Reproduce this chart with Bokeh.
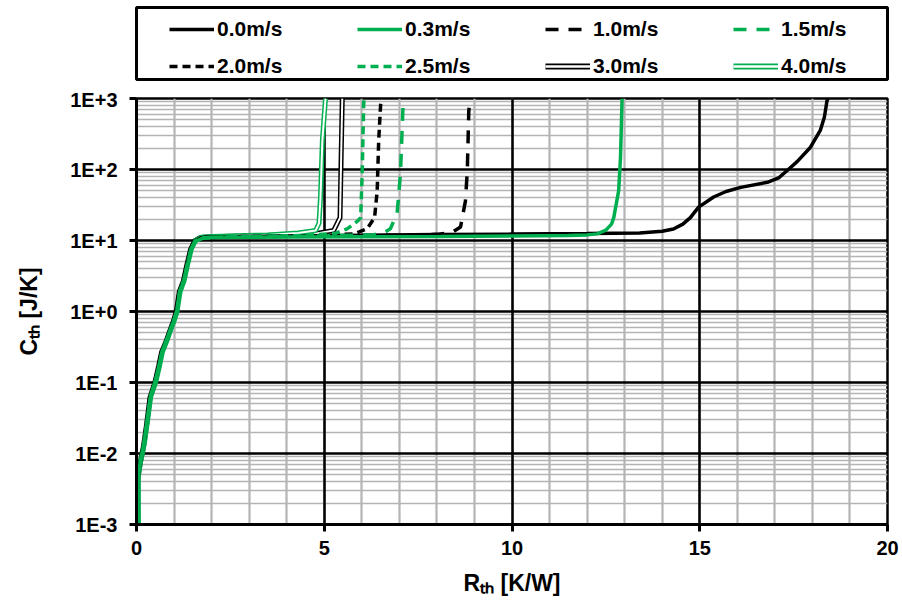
import math
from bokeh.plotting import figure
from bokeh.models import Range1d, FixedTicker, Legend, LegendItem, Grid
from bokeh.layouts import column
from bokeh.embed import file_html
from bokeh.resources import INLINE

# ---------------- data ----------------
labels = ["0.0m/s", "0.3m/s", "1.0m/s", "1.5m/s", "2.0m/s", "2.5m/s", "3.0m/s", "4.0m/s"]

r_00 = [0.03, 0.03, 0.06, 0.10, 0.14, 0.19, 0.27, 0.36, 0.49, 0.59, 0.67, 0.79, 0.89, 0.99, 1.06, 1.14,
        1.25, 1.34, 1.44, 1.55, 1.72, 2.0, 3.0, 4.0, 6.0, 8.0, 10.0, 12.0, 13.4, 14.0, 14.3, 14.55, 14.75,
        14.97, 15.37, 15.7, 16.09, 16.8, 17.1, 17.33, 17.6, 17.95, 18.21, 18.32, 18.39, 18.42]
c_00 = [0.001, 0.0042, 0.0055, 0.0075, 0.0095, 0.013, 0.026, 0.062, 0.10, 0.17, 0.27, 0.38, 0.54, 0.75,
        1.0, 1.9, 2.7, 4.5, 7.5, 9.8, 10.9, 11.2, 11.4, 11.6, 11.9, 12.1, 12.3, 12.5, 12.8, 13.5, 14.5,
        17, 21, 29.5, 41, 49, 56, 66, 76, 97, 130, 206, 355, 550, 940, 1000]

r_03 = [0.04, 0.04, 0.07, 0.11, 0.15, 0.20, 0.28, 0.38, 0.51, 0.61, 0.69, 0.81, 0.91, 1.01, 1.08, 1.16,
        1.27, 1.36, 1.46, 1.57, 1.75, 2.0, 4.0, 6.0, 8.1, 10.0, 11.5, 12.0, 12.27, 12.5, 12.65, 12.71,
        12.84, 12.89, 12.93, 12.94]
c_03 = [0.001, 0.0045, 0.006, 0.008, 0.010, 0.014, 0.028, 0.065, 0.11, 0.18, 0.28, 0.40, 0.56, 0.78,
        1.05, 1.95, 2.8, 4.6, 7.6, 9.7, 10.7, 11.0, 11.2, 11.3, 11.4, 11.6, 11.8, 12.0, 12.4, 14, 17, 21,
        50, 148, 940, 1000]

r_10 = [0.03, 0.03, 0.05, 0.09, 0.13, 0.18, 0.26, 0.35, 0.48, 0.58, 0.66, 0.78, 0.88, 0.98, 1.05, 1.13,
        1.24, 1.33, 1.43, 1.54, 1.70, 2.0, 5.0, 7.0, 8.0, 8.4, 8.63, 8.76, 8.81, 8.85, 8.86]
c_10 = [0.001, 0.004, 0.0052, 0.0072, 0.0092, 0.0125, 0.025, 0.060, 0.098, 0.165, 0.26, 0.37, 0.53, 0.74,
        0.98, 1.85, 2.65, 4.4, 7.4, 9.8, 10.9, 11.2, 11.6, 11.9, 12.2, 13.0, 15.5, 36, 97, 680, 740]

r_15 = [0.04, 0.04, 0.06, 0.10, 0.15, 0.20, 0.28, 0.37, 0.50, 0.60, 0.68, 0.80, 0.90, 1.00, 1.07, 1.15,
        1.26, 1.35, 1.45, 1.56, 1.73, 2.0, 5.0, 6.3, 6.6, 6.76, 6.94, 7.03, 7.1, 7.11]
c_15 = [0.001, 0.0044, 0.0058, 0.0078, 0.0098, 0.0135, 0.027, 0.063, 0.10, 0.17, 0.27, 0.39, 0.55, 0.76,
        1.0, 1.9, 2.75, 4.5, 7.5, 9.8, 10.8, 11.1, 11.6, 12.0, 13.0, 14.6, 24, 87, 840, 1000]

r_20 = [0.03, 0.03, 0.06, 0.10, 0.14, 0.19, 0.27, 0.36, 0.49, 0.59, 0.67, 0.79, 0.89, 0.99, 1.06, 1.14,
        1.25, 1.34, 1.44, 1.55, 1.71, 2.0, 5.0, 5.8, 6.14, 6.34, 6.41, 6.45, 6.5, 6.51]
c_20 = [0.001, 0.0043, 0.0056, 0.0076, 0.0096, 0.013, 0.026, 0.061, 0.10, 0.17, 0.27, 0.38, 0.54, 0.75,
        1.0, 1.9, 2.7, 4.5, 7.5, 9.8, 10.9, 11.2, 11.8, 12.4, 14.6, 21, 50, 256, 800, 900]

r_25 = [0.04, 0.04, 0.07, 0.11, 0.15, 0.20, 0.28, 0.37, 0.50, 0.60, 0.68, 0.80, 0.90, 1.00, 1.07, 1.15,
        1.26, 1.35, 1.45, 1.56, 1.72, 2.0, 4.5, 5.3, 5.61, 5.9, 5.97, 6.01, 6.05, 6.06]
c_25 = [0.001, 0.0046, 0.006, 0.008, 0.010, 0.014, 0.027, 0.063, 0.10, 0.17, 0.27, 0.39, 0.55, 0.76,
        1.0, 1.9, 2.75, 4.5, 7.5, 9.8, 10.8, 11.1, 11.8, 12.6, 14.6, 19, 21, 87, 840, 1000]

r_30 = [0.03, 0.03, 0.06, 0.10, 0.14, 0.19, 0.27, 0.36, 0.49, 0.59, 0.67, 0.79, 0.89, 0.99, 1.06, 1.14,
        1.25, 1.34, 1.44, 1.55, 1.71, 2.0, 4.0, 4.8, 5.25, 5.42, 5.45, 5.48]
c_30 = [0.001, 0.0042, 0.0055, 0.0075, 0.0095, 0.013, 0.026, 0.062, 0.10, 0.17, 0.27, 0.38, 0.54, 0.75,
        1.0, 1.9, 2.7, 4.5, 7.5, 9.9, 11.0, 11.3, 12.0, 12.6, 13.8, 21, 150, 1000]

r_40 = [0.05, 0.05, 0.08, 0.12, 0.16, 0.21, 0.29, 0.38, 0.51, 0.61, 0.69, 0.81, 0.91, 1.01, 1.08, 1.16,
        1.27, 1.36, 1.46, 1.57, 1.73, 2.0, 3.5, 4.3, 4.77, 4.86, 4.9, 4.95, 5.03, 5.04]
c_40 = [0.001, 0.0048, 0.0062, 0.0082, 0.0102, 0.014, 0.028, 0.064, 0.10, 0.17, 0.27, 0.39, 0.55, 0.76,
        1.0, 1.9, 2.75, 4.6, 7.6, 10.0, 11.1, 11.4, 12.0, 12.8, 13.8, 17.5, 40, 257, 950, 1000]

x_ticks = [0, 5, 10, 15, 20]
x_minor_ticks = list(range(0, 21))
y_ticks = [1e-3, 1e-2, 1e-1, 1e0, 1e1, 1e2, 1e3]
y_tick_labels = ["1E-3", "1E-2", "1E-1", "1E+0", "1E+1", "1E+2", "1E+3"]
y_minor_ticks = [m * 10.0 ** k for k in range(-3, 3) for m in range(2, 10)]

x_title = "R\u209c\u2095 [K/W]"
y_title = "C\u209c\u2095 [J/K]"

GREEN = "#00B050"
FONT = "Liberation Sans"

# ---------------- main plot ----------------
p = figure(width=902, height=516, output_backend="svg", toolbar_location=None,
           x_range=Range1d(0, 20), y_range=Range1d(1e-3, 1e3), y_axis_type="log",
           min_border_left=136, min_border_right=15, min_border_top=10, min_border_bottom=80)
p.outline_line_color = "black"
p.outline_line_width = 2.5
p.background_fill_color = "white"
p.border_fill_color = "white"

x_ticker = FixedTicker(ticks=x_ticks, minor_ticks=x_minor_ticks)
y_ticker = FixedTicker(ticks=y_ticks, minor_ticks=y_minor_ticks)
p.xaxis.ticker = x_ticker
p.yaxis.ticker = y_ticker
p.yaxis.major_label_overrides = {t: s for t, s in zip(y_ticks, y_tick_labels)}
p.xaxis.axis_label = x_title
p.yaxis.axis_label = y_title

for ax in (p.xaxis[0], p.yaxis[0]):
    ax.axis_line_color = "black"
    ax.axis_line_width = 3
    ax.major_tick_line_color = "black"
    ax.major_tick_line_width = 3
    ax.major_tick_out = 7
    ax.major_tick_in = 0
    ax.minor_tick_line_color = None
    ax.major_label_text_font = FONT
    ax.major_label_text_font_style = "bold"
    ax.major_label_text_font_size = "20px"
    ax.major_label_text_color = "black"
    ax.axis_label_text_font = FONT
    ax.axis_label_text_font_style = "bold"
    ax.axis_label_text_font_size = "23px"
    ax.axis_label_text_color = "black"
p.xaxis.major_label_standoff = 9
p.yaxis.major_label_standoff = 12
p.xaxis.axis_label_standoff = 12
p.yaxis.axis_label_standoff = 25

# grids: all minor lines first, then all major lines on top
p.xgrid.visible = False
p.ygrid.visible = False
p.add_layout(Grid(dimension=0, ticker=x_ticker, grid_line_color=None,
                  minor_grid_line_color="#b4b4b4", minor_grid_line_width=2.2))
p.add_layout(Grid(dimension=1, ticker=y_ticker, grid_line_color=None,
                  minor_grid_line_color="#b4b4b4", minor_grid_line_width=1.6))
p.add_layout(Grid(dimension=0, ticker=x_ticker, grid_line_color="black", grid_line_width=2.5))
p.add_layout(Grid(dimension=1, ticker=y_ticker, grid_line_color="black", grid_line_width=2.5))

# series (double lines underneath, greens on top as in the original)
p.line(r_30, c_30, line_color="black", line_width=5)
p.line(r_30, c_30, line_color="white", line_width=2)
p.line(r_40, c_40, line_color=GREEN, line_width=5)
p.line(r_40, c_40, line_color="white", line_width=2)
p.line(r_00, c_00, line_color="black", line_width=3.5)
p.line(r_10, c_10, line_color="black", line_width=3.5, line_dash="13 10")
p.line(r_20, c_20, line_color="black", line_width=3.5, line_dash="8 5")
p.line(r_03, c_03, line_color=GREEN, line_width=3.5)
p.line(r_15, c_15, line_color=GREEN, line_width=3.5, line_dash="13 10")
p.line(r_25, c_25, line_color=GREEN, line_width=3.5, line_dash="8 5")

# ---------------- legend panel ----------------
pl = figure(width=902, height=88, output_backend="svg", toolbar_location=None,
            x_range=Range1d(0, 1), y_range=Range1d(0, 1),
            x_axis_location=None, y_axis_location=None,
            min_border_left=133, min_border_right=14, min_border_top=7, min_border_bottom=9)
pl.grid.visible = False
pl.outline_line_color = "black"
pl.outline_line_width = 3
pl.border_fill_color = "white"

styles = [
    dict(line_color="black", line_width=3.5),
    dict(line_color=GREEN, line_width=3.5),
    dict(line_color="black", line_width=3.5, line_dash="13 10"),
    dict(line_color=GREEN, line_width=3.5, line_dash="13 10"),
    dict(line_color="black", line_width=3.5, line_dash="8 5"),
    dict(line_color=GREEN, line_width=3.5, line_dash="8 5"),
    None, None,
]
# legend-sample renderers live outside the visible range of this panel
hid_x, hid_y = [5, 6], [5, 6]
items = []
for i, lbl in enumerate(labels):
    if styles[i] is not None:
        r = pl.line(x=hid_x, y=hid_y, **styles[i])
        items.append(LegendItem(label=lbl, renderers=[r]))
    else:
        col = "black" if lbl == "3.0m/s" else GREEN
        r1 = pl.line(x=hid_x, y=hid_y, line_color=col, line_width=6)
        r2 = pl.line(x=hid_x, y=hid_y, line_color="white", line_width=2.5)
        items.append(LegendItem(label=lbl, renderers=[r1, r2]))

legend = Legend(items=items, ncols=4, orientation="horizontal", location=(33, 0),
                margin=0, padding=4, spacing=11, glyph_width=45, glyph_height=26,
                label_height=26, label_width=129, label_standoff=3,
                border_line_color=None, background_fill_alpha=0,
                label_text_font=FONT, label_text_font_style="bold",
                label_text_font_size="21px", label_text_color="black")
pl.add_layout(legend)

layout = column(pl, p, spacing=0)
open("out.html", "w").write(file_html(layout, INLINE))
